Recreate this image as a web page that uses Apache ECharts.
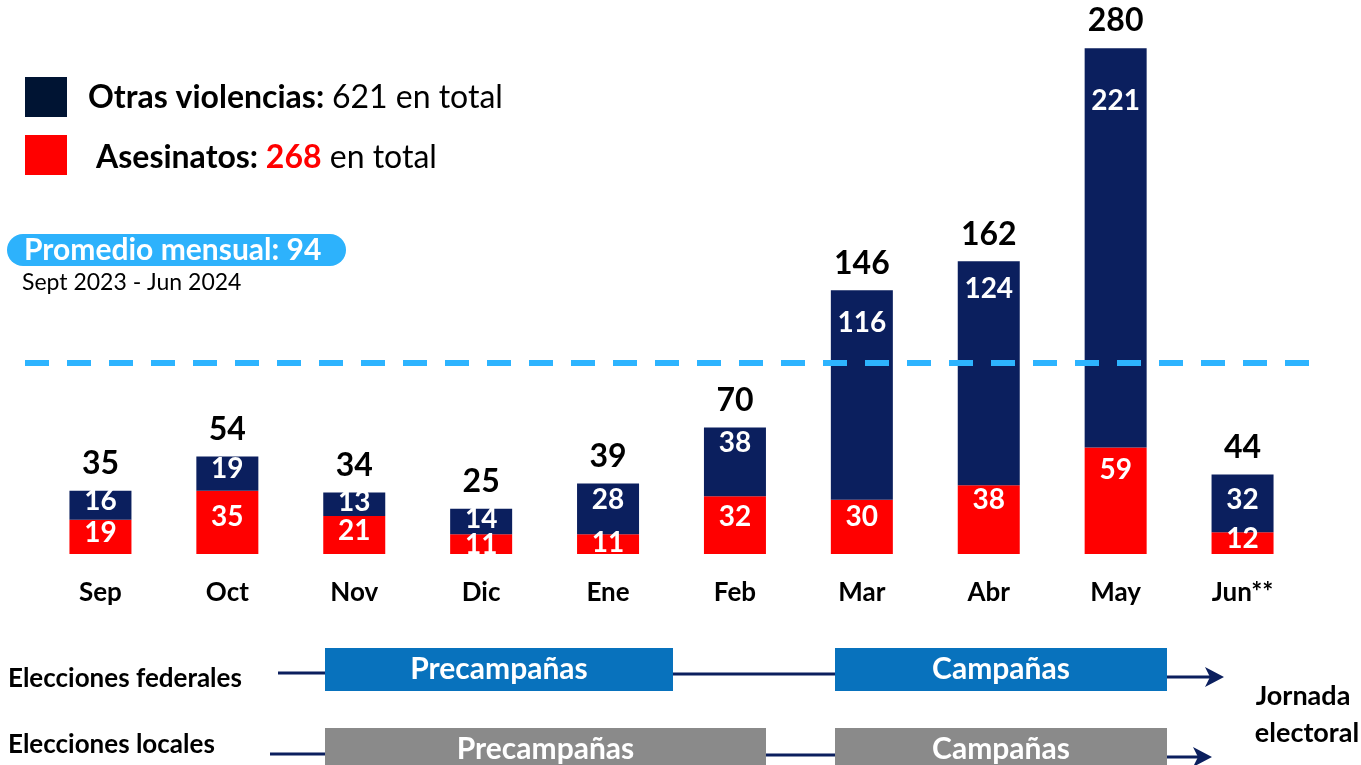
<!DOCTYPE html>
<html>
<head>
<meta charset="utf-8">
<script src="https://cdn.jsdelivr.net/npm/echarts@6/dist/echarts.min.js"></script>
<style>
  html, body { margin: 0; padding: 0; background: #fff; }
  #main { width: 1361px; height: 765px; }
</style>
</head>
<body>
<div id="main"></div>
<script>
var months = ['Sep', 'Oct', 'Nov', 'Dic', 'Ene', 'Feb', 'Mar', 'Abr', 'May', 'Jun**'];
var asesinatos = [19, 35, 21, 11, 11, 32, 30, 38, 59, 12];
var otras = [16, 19, 13, 14, 28, 38, 116, 124, 221, 32];
var totals = [35, 54, 34, 25, 39, 70, 146, 162, 280, 44];
var promedio = 94;
var avgLineLevel = 106; // where the dashed line sits in the picture

// label centre, px below each segment's top
var otrasLabelDy = [10, 13, 9, 10, 16, 15, 33, 28, 53, 25];
var asesLabelDy = [13, 26, 15, 11, 9, 21, 17, 15, 23, 7];

var FONT = 'Lato, "Open Sans", sans-serif';
var NAVY = '#0b1f5e';
var RED = '#ff0000';

var chartDom = document.getElementById('main');
var myChart = echarts.init(chartDom, null, { width: 1361, height: 765 });

function segData(values, dys) {
    return values.map(function (v, i) {
        return {
            value: v,
            label: { position: ['50%', dys[i]] }
        };
    });
}

var segLabel = {
    show: true,
    color: '#fff',
    fontFamily: FONT,
    fontWeight: 'bold',
    fontSize: 28,
    align: 'center',
    verticalAlign: 'middle'
};

function arrowHead(x, y) {
    return {
        type: 'polygon',
        shape: { points: [[x - 15, y - 10], [x + 4, y], [x - 15, y + 10], [x - 10, y]] },
        style: { fill: NAVY }
    };
}

function hLine(x1, x2, y) {
    return {
        type: 'line',
        shape: { x1: x1, y1: y, x2: x2, y2: y },
        style: { stroke: NAVY, lineWidth: 3 }
    };
}

function box(x, y, w, h, color, text) {
    return {
        type: 'rect',
        shape: { x: x, y: y, width: w, height: h },
        style: { fill: color },
        textContent: {
            style: { text: text, fill: '#fff', font: 'bold 30px ' + FONT }
        },
        textConfig: { position: 'inside' }
    };
}

function plainText(x, y, text, font, fill, align) {
    return {
        type: 'text',
        x: x,
        y: y,
        style: { text: text, font: font, fill: fill || '#000', align: align || 'left', verticalAlign: 'middle' }
    };
}

var option = {
    animation: false,
    grid: { left: 37, right: 55, top: 12, bottom: 211 },
    xAxis: {
        type: 'category',
        data: months,
        axisLine: { show: false },
        axisTick: { show: false },
        axisLabel: {
            margin: 26,
            color: '#000',
            fontFamily: FONT,
            fontWeight: 'bold',
            fontSize: 26
        }
    },
    yAxis: {
        type: 'value',
        min: 0,
        max: 300,
        show: false,
        splitLine: { show: false }
    },
    series: [
        {
            name: 'Asesinatos',
            type: 'bar',
            stack: 'total',
            barWidth: 62,
            itemStyle: { color: RED },
            label: segLabel,
            data: segData(asesinatos, asesLabelDy)
        },
        {
            name: 'Otras violencias',
            type: 'bar',
            stack: 'total',
            barWidth: 62,
            itemStyle: { color: NAVY },
            label: segLabel,
            data: segData(otras, otrasLabelDy),
            markLine: {
                silent: true,
                symbol: 'none',
                label: { show: false },
                lineStyle: { color: '#2db4ff', width: 6, type: [24, 18], cap: 'butt' },
                data: [[{ x: 25, yAxis: avgLineLevel }, { x: 1312, yAxis: avgLineLevel }]],
                z: 10
            }
        },
        {
            name: 'Total',
            type: 'bar',
            stack: 'total',
            barWidth: 62,
            itemStyle: { color: 'transparent' },
            label: {
                show: true,
                position: 'top',
                distance: 11,
                color: '#000',
                fontFamily: FONT,
                fontWeight: 'bold',
                fontSize: 32,
                formatter: function (p) { return totals[p.dataIndex]; }
            },
            data: totals.map(function () { return 0; })
        }
    ],
    graphic: [
        // legend
        { type: 'rect', shape: { x: 25, y: 77, width: 42, height: 40 }, style: { fill: '#001433' } },
        { type: 'rect', shape: { x: 25, y: 135, width: 42, height: 40 }, style: { fill: RED } },
        {
            type: 'text', x: 88, y: 98,
            style: {
                text: '{b|Otras violencias: }{n|621 en total}',
                verticalAlign: 'middle',
                rich: {
                    b: { font: 'bold 32px ' + FONT, fill: '#000' },
                    n: { font: '32px ' + FONT, fill: '#000' }
                }
            }
        },
        {
            type: 'text', x: 96, y: 158,
            style: {
                text: '{b|Asesinatos: }{r|268}{n| en total}',
                verticalAlign: 'middle',
                rich: {
                    b: { font: 'bold 32px ' + FONT, fill: '#000' },
                    r: { font: 'bold 32px ' + FONT, fill: RED },
                    n: { font: '32px ' + FONT, fill: '#000' }
                }
            }
        },
        // promedio pill
        {
            type: 'rect',
            shape: { x: 7, y: 234, width: 339, height: 32, r: 16 },
            style: { fill: '#2db2fc' }
        },
        plainText(24, 250, 'Promedio mensual: ' + promedio, 'bold 30px ' + FONT, '#fff'),
        plainText(22, 283, 'Sept 2023 - Jun 2024', '23px ' + FONT, '#000'),
        // timeline: federales
        plainText(8, 679, 'Elecciones federales', 'bold 26px ' + FONT, '#000'),
        hLine(278, 325, 673),
        hLine(673, 835, 674),
        hLine(1167, 1212, 677),
        arrowHead(1220, 677),
        box(325, 648, 348, 43, '#0872bd', 'Precampañas'),
        box(835, 648, 332, 43, '#0872bd', 'Campañas'),
        // timeline: locales
        plainText(8, 745, 'Elecciones locales', 'bold 26px ' + FONT, '#000'),
        hLine(270, 325, 754),
        hLine(766, 835, 755),
        hLine(1167, 1200, 757),
        arrowHead(1208, 757),
        box(325, 728, 441, 43, '#8a8a8a', 'Precampañas'),
        box(835, 728, 332, 43, '#8a8a8a', 'Campañas'),
        plainText(1303, 696, 'Jornada', 'bold 27px ' + FONT, '#000', 'center'),
        plainText(1307, 733, 'electoral', 'bold 27px ' + FONT, '#000', 'center')
    ]
};

option && myChart.setOption(option);
</script>
</body>
</html>
